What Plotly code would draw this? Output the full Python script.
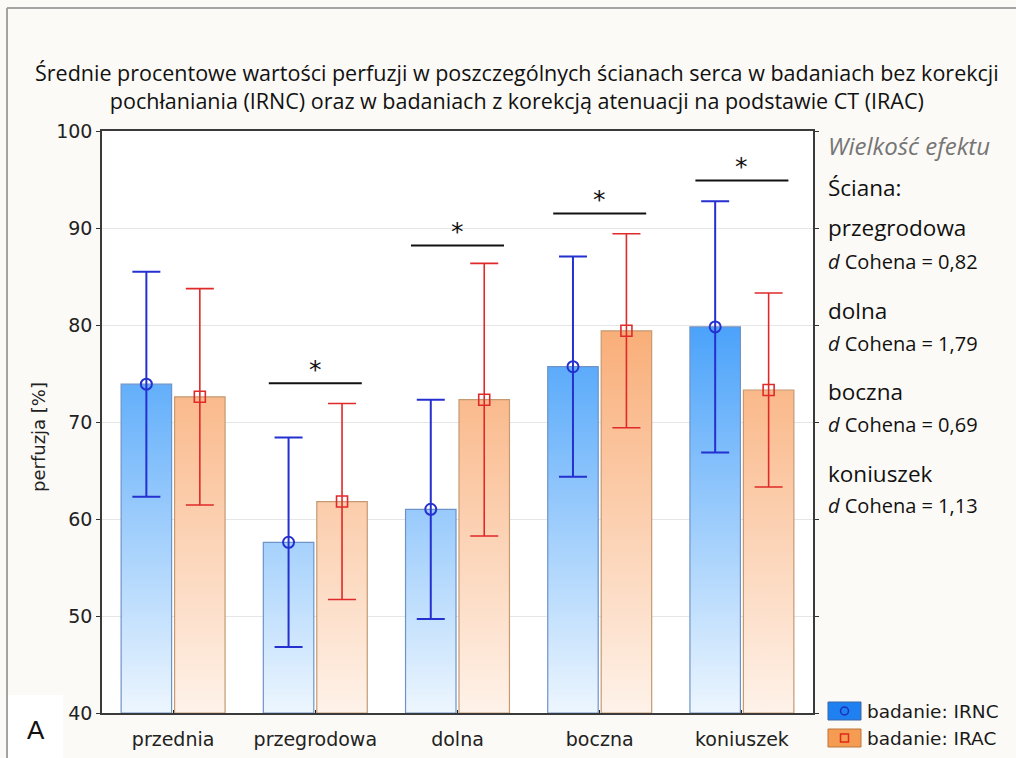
import plotly.graph_objects as go

# --- data -------------------------------------------------------------
walls = ["przednia", "przegrodowa", "dolna", "boczna", "koniuszek"]
irnc_mean = [73.9, 57.6, 61.0, 75.7, 79.8]
irnc_sd = [11.6, 10.8, 11.3, 11.35, 12.95]
irac_mean = [72.6, 61.8, 72.3, 79.4, 73.3]
irac_sd = [11.15, 10.1, 14.05, 10.0, 10.0]
# height of the significance bar above each wall (None = not significant)
sig_level = [None, 74.0, 88.2, 91.5, 94.9]
effect_walls = ["przegrodowa", "dolna", "boczna", "koniuszek"]
cohen_d = ["0,82", "1,79", "0,69", "1,13"]
y_ticks = [40, 50, 60, 70, 80, 90, 100]

Y_MIN, Y_MAX = 40, 100
W, H = 1016, 758
ML, MR, MT, MB = 102, 203, 131, 45

BAR_W = 0.355
OFFSET = 0.188

BLUE_LINE = "#2431d0"
RED_LINE = "#e02a2a"
SANS = "DejaVu Sans"
HUMANIST = "Open Sans"


def px(x):
    return (x - ML) / (W - ML - MR)


def py(y):
    return (H - MB - y) / (H - MT - MB)


def rect_path(centers, values):
    xs, ys = [], []
    for c, v in zip(centers, values):
        x0, x1 = c - BAR_W / 2, c + BAR_W / 2
        xs += [x0, x1, x1, x0, x0, None]
        ys += [Y_MIN, Y_MIN, v, v, Y_MIN, None]
    return xs, ys


idx = list(range(len(walls)))
x_irnc = [i - OFFSET for i in idx]
x_irac = [i + OFFSET for i in idx]

fig = go.Figure()

# gradient-filled bars
for xc, vals, cscale, edge in [
    (x_irnc, irnc_mean, [[0, "#edf6fe"], [1, "#4aa2fa"]], "#6f93c8"),
    (x_irac, irac_mean, [[0, "#fef2e9"], [1, "#f9ad77"]], "#c49a72"),
]:
    xs, ys = rect_path(xc, vals)
    fig.add_trace(go.Scatter(
        x=xs, y=ys, mode="lines", fill="toself",
        line=dict(color=edge, width=1.2),
        fillgradient=dict(type="vertical", colorscale=cscale, start=Y_MIN, stop=80),
        hoverinfo="skip", showlegend=False,
    ))

# means with +/- SD whiskers
fig.add_trace(go.Scatter(
    x=x_irnc, y=irnc_mean, mode="markers",
    marker=dict(symbol="circle-open", size=11, color=BLUE_LINE, line=dict(width=2, color=BLUE_LINE)),
    error_y=dict(type="data", array=irnc_sd, color=BLUE_LINE, thickness=2, width=14),
    name="badanie: IRNC", showlegend=False,
))
fig.add_trace(go.Scatter(
    x=x_irac, y=irac_mean, mode="markers",
    marker=dict(symbol="square-open", size=11, color=RED_LINE, line=dict(width=1.6, color=RED_LINE)),
    error_y=dict(type="data", array=irac_sd, color=RED_LINE, thickness=1.6, width=14),
    name="badanie: IRAC", showlegend=False,
))

shapes = []
annotations = []

# significance bars and stars
for i, lvl in enumerate(sig_level):
    if lvl is None:
        continue
    shapes.append(dict(type="line", xref="x", yref="y", x0=i - 0.327, x1=i + 0.327,
                       y0=lvl, y1=lvl, line=dict(color="#111111", width=2)))
    annotations.append(dict(x=i, y=lvl, xref="x", yref="y", text="*", showarrow=False,
                            yanchor="middle", yshift=14,
                            font=dict(family=SANS, size=25, color="#111111")))

# chart title
annotations.append(dict(
    x=px(517), y=py(86), xref="paper", yref="paper", showarrow=False,
    text="Średnie procentowe wartości perfuzji w poszczególnych ścianach serca w badaniach bez korekcji"
         "<br>pochłaniania (IRNC) oraz w badaniach z korekcją atenuacji na podstawie CT (IRAC)",
    font=dict(family=HUMANIST, size=21.5, color="#111111"), align="center",
    xanchor="center", yanchor="middle",
))

# y axis title
annotations.append(dict(
    x=px(38), y=py(437), xref="paper", yref="paper", showarrow=False,
    text="perfuzja [%]", textangle=-90,
    font=dict(family=SANS, size=18, color="#222222"),
    xanchor="center", yanchor="middle",
))

# effect size panel
right_x = px(826)
annotations.append(dict(x=right_x, y=py(145), xref="paper", yref="paper", showarrow=False,
                        text="<i>Wielkość efektu</i>", xanchor="left", yanchor="middle",
                        font=dict(family=HUMANIST, size=24, color="#757575")))
annotations.append(dict(x=right_x, y=py(187), xref="paper", yref="paper", showarrow=False,
                        text="Ściana:", xanchor="left", yanchor="middle",
                        font=dict(family=HUMANIST, size=22.5, color="#111111")))
name_y = [228, 310, 391, 473]
for name, d, yy in zip(effect_walls, cohen_d, name_y):
    annotations.append(dict(x=right_x, y=py(yy), xref="paper", yref="paper", showarrow=False,
                            text=name, xanchor="left", yanchor="middle",
                            font=dict(family=HUMANIST, size=22.5, color="#111111")))
    annotations.append(dict(x=right_x, y=py(yy + 33), xref="paper", yref="paper", showarrow=False,
                            text=f"<i>d</i> Cohena = {d}", xanchor="left", yanchor="middle",
                            font=dict(family=HUMANIST, size=20, color="#111111")))

# panel letter
shapes.append(dict(type="rect", xref="paper", yref="paper", x0=px(8), x1=px(63),
                   y0=py(695), y1=py(758), fillcolor="#ffffff", line=dict(width=0), layer="below"))
annotations.append(dict(x=px(36), y=py(730), xref="paper", yref="paper", showarrow=False,
                        text="A", xanchor="center", yanchor="middle",
                        font=dict(family="Liberation Sans", size=26, color="#111111")))

# outer frame
shapes.append(dict(type="line", xref="paper", yref="paper", x0=px(7), x1=px(W),
                   y0=py(8), y1=py(8), line=dict(color="#a3a3a3", width=2)))
shapes.append(dict(type="line", xref="paper", yref="paper", x0=px(7), x1=px(7),
                   y0=py(8), y1=py(H), line=dict(color="#a3a3a3", width=2)))

# legend
legend_items = [
    ("badanie: IRNC", "#1f80f2", "#3a66a8", "circle", "#1c2fb8", 711),
    ("badanie: IRAC", "#f69b52", "#b8763c", "square", "#e0281e", 738),
]
for label, fillc, edgec, sym, symc, yc in legend_items:
    shapes.append(dict(type="rect", xref="paper", yref="paper", x0=px(828), x1=px(861),
                       y0=py(yc + 9), y1=py(yc - 9), fillcolor=fillc, line=dict(color=edgec, width=1)))
    if sym == "circle":
        shapes.append(dict(type="circle", xref="paper", yref="paper", x0=px(840.5), x1=px(848.5),
                           y0=py(yc + 4), y1=py(yc - 4), line=dict(color=symc, width=1.5)))
    else:
        shapes.append(dict(type="rect", xref="paper", yref="paper", x0=px(840.5), x1=px(848.5),
                           y0=py(yc + 4), y1=py(yc - 4), line=dict(color=symc, width=1.5)))
    annotations.append(dict(x=px(865), y=py(yc), xref="paper", yref="paper", showarrow=False,
                            text=label, xanchor="left", yanchor="middle",
                            font=dict(family=SANS, size=18.5, color="#1a1a1a")))

fig.update_layout(
    width=W, height=H,
    margin=dict(l=ML, r=MR, t=MT, b=MB),
    paper_bgcolor="#fcfaf6",
    plot_bgcolor="#ffffff",
    shapes=shapes,
    annotations=annotations,
    showlegend=False,
)
fig.update_xaxes(
    range=[-0.5, len(walls) - 0.5], tickvals=idx, ticktext=walls,
    showgrid=False, zeroline=False, automargin=False,
    showline=True, linecolor="#3a3a3a", linewidth=1.5, mirror=True,
    ticks="inside", ticklen=3, tickcolor="#222222", ticklabelstandoff=8,
    tickfont=dict(family=SANS, size=19, color="#222222"),
)
fig.update_yaxes(
    range=[Y_MIN, Y_MAX], tickvals=y_ticks,
    showgrid=True, gridcolor="#e6e6e6", gridwidth=1, zeroline=False, automargin=False,
    showline=True, linecolor="#3a3a3a", linewidth=1.5, mirror="ticks",
    ticks="outside", ticklen=4, tickcolor="#333333",
    tickfont=dict(family=SANS, size=19, color="#222222"),
)

fig.write_html("out.html")
